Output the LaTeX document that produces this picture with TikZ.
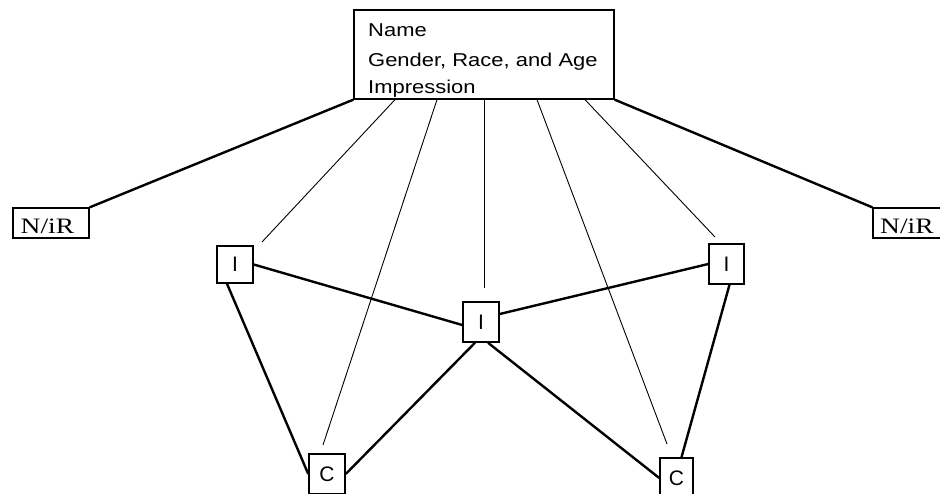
\documentclass[tikz,border=0pt]{standalone}
\usepackage{fontspec}
\setmainfont{Liberation Serif}
\newfontfamily\uisans{Liberation Sans}
\begin{document}
\begin{tikzpicture}[x=1pt,y=-1pt,
  topbox/.style={draw,line width=1.3pt,minimum width=260pt,minimum height=89pt,inner sep=0pt},
  sidebox/.style={draw,line width=1.3pt,minimum width=76pt,minimum height=30pt,inner sep=0pt},
  smallbox/.style={draw,line width=1.5pt,minimum width=36pt,minimum height=40pt,inner sep=0pt,font=\uisans\fontsize{21}{21}\selectfont},
  toptext/.style={anchor=base west,inner sep=0pt,font=\uisans\fontsize{18.6}{20}\selectfont},
  sidetext/.style={anchor=base west,inner sep=0pt,font=\fontsize{22}{24}\selectfont},
  boldlink/.style={line width=2.4pt},
  finelink/.style={line width=0.9pt}]
% top box
\node[topbox] (top) at (484,54.5) {};
\node[toptext] (t1) at (368,36) {\scalebox{1.18}[1]{Name}};
\node[toptext] (t2) at (368,66) {\scalebox{1.18}[1]{Gender, Race, and Age}};
\node[toptext] (t3) at (368,93) {\scalebox{1.18}[1]{Impression}};
% side boxes
\node[sidebox] (NL) at (51,223) {};
\node[sidetext] (NLt) at (20.5,233.5) {\scalebox{1.25}[1]{N/iR}};
\node[sidebox] (NR) at (911,223) {};
\node[sidetext] (NRt) at (880,233.5) {\scalebox{1.25}[1]{N/iR}};
% small boxes
\node[smallbox,minimum height=37pt] (IL) at (235,264.5) {I};
\node[smallbox] (IM) at (481,322) {I};
\node[smallbox,minimum width=35pt] (IR) at (726.5,264) {I};
\node[smallbox] (CL) at (327,474) {C};
\node[smallbox,minimum width=33pt] (CR) at (676.5,478) {C};
% thick connectors
\draw[boldlink] (top.south west) -- (NL.north east);
\draw[boldlink] (top.south east) -- (NR.north west);
\draw[boldlink] (IL.east) -- ([yshift=-3pt]IM.west);
\draw[boldlink] ([yshift=8pt]IM.east) -- (IR.west);
\draw[boldlink] ([xshift=-8pt]IL.south) -- (CL.west);
\draw[boldlink] (CL.east) -- ([xshift=-6pt]IM.south);
\draw[boldlink] ([xshift=7pt]IM.south) -- (CR.west);
\draw[boldlink] ([xshift=3pt]IR.south) -- ([xshift=5pt]CR.north);
% thin connectors
\coordinate (e1) at (262,242);
\coordinate (e2) at (323,445);
\coordinate (e3) at (484,288);
\coordinate (e4) at (667,444);
\coordinate (e5) at (715,237);
\draw[finelink] ([xshift=-89pt]top.south) -- (e1);
\draw[finelink] ([xshift=-47pt]top.south) -- (e2);
\draw[finelink] (top.south) -- (e3);
\draw[finelink] ([xshift=53pt]top.south) -- (e4);
\draw[finelink] ([xshift=101pt]top.south) -- (e5);
\pgfresetboundingbox
\path[use as bounding box] (0,0) rectangle (940,493);
\end{tikzpicture}
\end{document}
